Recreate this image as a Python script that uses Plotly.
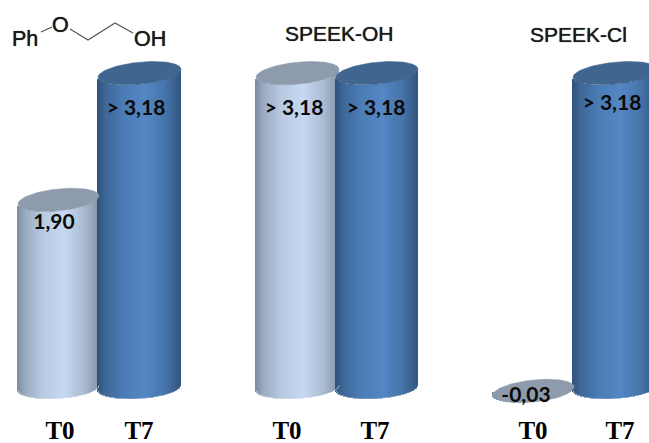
import math
import plotly.graph_objects as go

# --- data ---
series_names = ["T0", "T7"]
t0_values = [1.90, 3.18, -0.03]
t7_values = [3.18, 3.18, 3.18]
t0_labels = ["1,90", "> 3,18", "-0,03"]
t7_labels = ["> 3,18", "> 3,18", "> 3,18"]
group_titles = ["SPEEK-OH", "SPEEK-Cl"]
tick_labels = ["T0", "T7", "T0", "T7", "T0", "T7"]

# --- layout of the drawing (pixel-based axis) ---
W, H = 649, 443
BOTTOM = 33
ZERO_PX = 388.0
PX_PER_UNIT = 99.0
t0_centers = [58.5, 297.5, 533.5]
t7_centers = [139.5, 377.0, 615.0]
t0_half = [40.5, 41.5, 40.5]
t7_half = [41.5, 41.0, 42.0]
tick_positions = [60, 139, 287, 375, 533, 620]
ELL_B = 11.0
TOP_TILT = 4.0
BOTTOM_TILT = 2.5
t0_stops = [(0, "#7A8A9F"), (.1, "#9AABC1"), (.32, "#B8CAE2"), (.58, "#C6D9F1"), (.82, "#ABBCD3"), (1, "#8696AB")]
t7_stops = [(0, "#2E527A"), (.1, "#3D6797"), (.32, "#4B7CB6"), (.58, "#5487C5"), (.82, "#4673A9"), (1, "#325781")]
t0_cap = "#8D9BAD"
t7_cap = "#40658F"


def hex2rgb(h):
    return [int(h[i:i + 2], 16) for i in (1, 3, 5)]


def grad(stops, f):
    for (f0, c0), (f1, c1) in zip(stops, stops[1:]):
        if f <= f1:
            u = (f - f0) / (f1 - f0)
            a, b = hex2rgb(c0), hex2rgb(c1)
            return "rgb(%d,%d,%d)" % tuple(round(p + (q - p) * u) for p, q in zip(a, b))
    return stops[-1][1]


def lower_arc(c, tilt):
    """Offset (data units) of the lower half of a tilted ellipse, c in [-1, 1]."""
    return (tilt * c - ELL_B * math.sqrt(max(0, 1 - c * c))) / PX_PER_UNIT


def cylinder(fig, cx, half, value, stops, cap):
    xs, bases, heights, colors = [], [], [], []
    n = int(round(2 * half))
    for i in range(n):
        x = cx - half + (i + .5) * (2 * half / n)
        c = (x - cx) / half
        bottom = lower_arc(c, BOTTOM_TILT)
        top = value + lower_arc(c, TOP_TILT)
        xs.append(x)
        bases.append(bottom)
        heights.append(top - bottom)
        colors.append(grad(stops, (x - cx + half) / (2 * half)))
    fig.add_bar(x=xs, y=heights, base=bases, width=2 * half / n + .3,
                marker=dict(color=colors, line_width=0), hoverinfo="skip", showlegend=False)
    # soft rim along the bottom edge
    cs = [-1 + 2 * k / 60 for k in range(61)]
    fig.add_scatter(x=[cx + half * c for c in cs], y=[lower_arc(c, BOTTOM_TILT) for c in cs],
                    mode="lines", line=dict(color="rgba(255,255,255,0.55)", width=1),
                    hoverinfo="skip", showlegend=False)
    # elliptical top
    ts = [2 * math.pi * k / 90 for k in range(91)]
    fig.add_scatter(x=[cx + half * math.cos(t) for t in ts],
                    y=[value + (TOP_TILT * math.cos(t) + ELL_B * math.sin(t)) / PX_PER_UNIT for t in ts],
                    mode="lines", fill="toself", fillcolor=cap, line=dict(color=cap, width=.5),
                    hoverinfo="skip", showlegend=False)


fig = go.Figure()
for i in range(3):
    cylinder(fig, t0_centers[i], t0_half[i], t0_values[i], t0_stops, t0_cap)
    cylinder(fig, t7_centers[i], t7_half[i], t7_values[i], t7_stops, t7_cap)

# data labels
label_x = [54, 136, 294, 376, 526, 612]
label_drop = [.24, .37, .37, .37, .06, .32]
vals = [t0_values[0], t7_values[0], t0_values[1], t7_values[1], t0_values[2], t7_values[2]]
txt = [t0_labels[0], t7_labels[0], t0_labels[1], t7_labels[1], t0_labels[2], t7_labels[2]]
fig.add_scatter(x=label_x, y=[v - d for v, d in zip(vals, label_drop)],
                mode="text", text=txt, textposition="middle center",
                textfont=dict(family="Lato", size=21, weight=700, color="#0a0a0a"),
                hoverinfo="skip", showlegend=False)


def px2v(py):
    return (ZERO_PX - py) / PX_PER_UNIT


# molecule bonds
fig.add_scatter(x=[41, 52, None, 70, 88, 115, 133],
                y=[px2v(32), px2v(27), None, px2v(29), px2v(40), px2v(23), px2v(33)],
                mode="lines", line=dict(color="#555555", width=1.2), hoverinfo="skip", showlegend=False)

HEAVY = "0 0 0.8px #111111"


def note(x, y, text, size=21.5):
    fig.add_annotation(x=x, y=px2v(y), text=text, showarrow=False, xanchor="center", yanchor="middle",
                       font=dict(family="Liberation Sans", size=size, color="#1a1a1a", shadow=HEAVY))


note(25, 39, "Ph")
note(60, 25, "O")
note(150, 39, "OH")
note(339, 33, group_titles[0], size=21)
note(578, 34, group_titles[1], size=21)

fig.update_layout(
    width=W, height=H, autosize=False, barmode="overlay", bargap=0,
    margin=dict(l=0, r=0, t=0, b=BOTTOM),
    paper_bgcolor="white", plot_bgcolor="white", showlegend=False,
    xaxis=dict(range=[0, W], tickmode="array", tickvals=tick_positions, ticktext=tick_labels,
               showgrid=False, zeroline=False, showline=False, ticks="", ticklabelstandoff=3,
               tickfont=dict(family="Liberation Serif", size=25, weight=700, color="#000000"),
               tickangle=0),
    yaxis=dict(range=[px2v(H - BOTTOM), px2v(0)], visible=False),
)
fig.write_html("out.html", config=dict(displayModeBar=False),
               post_script="document.body.style.margin='0';document.documentElement.style.overflow='hidden';")
